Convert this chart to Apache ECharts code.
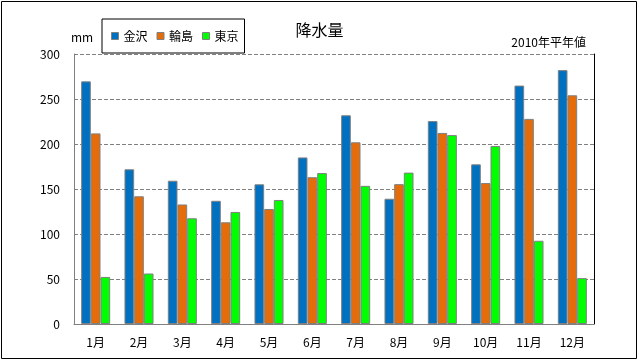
<!DOCTYPE html>
<html><head><meta charset="utf-8">
<script src="https://cdn.jsdelivr.net/npm/echarts@6/dist/echarts.min.js"></script>
<style>html,body{margin:0;padding:0;background:#fff}#c{width:639px;height:362px}</style>
</head><body><div id="c"></div>
<script>
const categories = ['1月','2月','3月','4月','5月','6月','7月','8月','9月','10月','11月','12月'];
const kanazawa = [269.6,171.9,159.2,136.9,155.2,185.1,231.9,139.2,225.5,177.4,264.9,282.1];
const wajima   = [211.8,141.9,132.8,113.0,127.8,163.1,201.9,155.4,212.3,156.6,227.9,254.1];
const tokyo    = [52.3,56.1,117.5,124.5,137.8,167.7,153.5,168.2,209.9,197.8,92.5,51.0];
const seriesNames = ['金沢','輪島','東京'];
const yTicks = [0,50,100,150,200,250,300];

const font = '"Noto Sans CJK JP", sans-serif';
const colors = ['#0070C0','#E46C0A','#00FF00'];
const chart = echarts.init(document.getElementById('c'), null, {renderer:'canvas'});
const mk = (name, data, i) => ({
  name, type:'bar', data, yAxisIndex:0,
  barGap:'0%', barCategoryGap:'33%',
  itemStyle:{color:colors[i], borderColor:'#808080', borderWidth:1},
  animation:false
});
chart.setOption({
  animation:false,
  textStyle:{fontFamily:font},
  title:[
    {text:'降水量', left:'center', top:17, textStyle:{fontSize:16, fontWeight:'normal', color:'#000', fontFamily:font}},
    {text:'2010年平年値', right:48, top:31, textStyle:{fontSize:12, fontWeight:'normal', color:'#000', fontFamily:font}},
    {text:'mm', left:66, top:26, textStyle:{fontSize:12, fontWeight:'normal', color:'#000', fontFamily:font}}
  ],
  legend:{
    data:seriesNames, left:102, top:19,
    padding:[11,6,11,9], itemGap:9, itemWidth:7, itemHeight:7,
    borderColor:'#000', borderWidth:1,
    textStyle:{fontSize:12, color:'#000', fontFamily:font},
    icon:'rect',
    itemStyle:{borderColor:'#808080', borderWidth:1}
  },
  grid:{left:74, right:45, top:54, bottom:38, containLabel:false},
  xAxis:{
    type:'category', data:categories,
    axisLine:{lineStyle:{color:'#808080', width:1}},
    axisTick:{show:false},
    axisLabel:{fontSize:12, color:'#000', margin:12, fontFamily:font}
  },
  yAxis:[
    {type:'value', min:0, max:300, interval:50, position:'left',
     axisLine:{show:true, lineStyle:{color:'#808080'}},
     axisTick:{show:false},
     axisLabel:{fontSize:12, color:'#000', margin:14, fontFamily:font,
       formatter:v=> yTicks.includes(v) ? String(v) : ''},
     splitLine:{show:true, lineStyle:{color:'#808080', type:[4,2], width:1}}},
    {type:'value', min:0, max:300, interval:50, position:'right',
     axisLine:{show:true, lineStyle:{color:'#000', width:1}},
     axisTick:{show:false}, axisLabel:{show:false}, splitLine:{show:false}}
  ],
  graphic:[{type:'rect', shape:{x:1.5,y:1.5,width:635,height:357}, style:{fill:null, stroke:'#000', lineWidth:1}, silent:true, z:-1}],
  series:[mk(seriesNames[0],kanazawa,0), mk(seriesNames[1],wajima,1), mk(seriesNames[2],tokyo,2)]
});
</script></body></html>
